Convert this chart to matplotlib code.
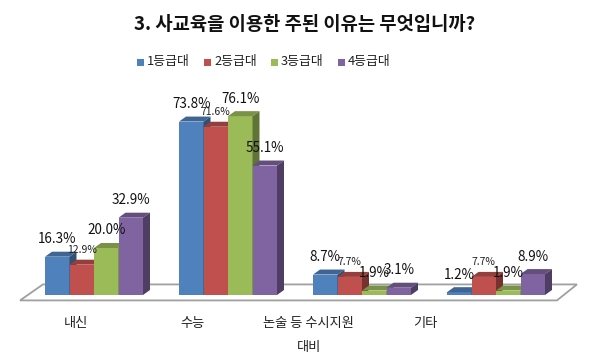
import numpy as np
import matplotlib
matplotlib.use("Agg")
import matplotlib.pyplot as plt
from matplotlib.patches import Polygon
from matplotlib.colors import to_rgb

plt.rcParams['font.family'] = ['Noto Sans CJK KR', 'DejaVu Sans']

title = "3. 사교육을 이용한 주된 이유는 무엇입니까?"
categories = ["내신", "수능", "논술 등 수시지원\n대비", "기타"]
series = ["1등급대", "2등급대", "3등급대", "4등급대"]
grade1 = [16.3, 73.8, 8.7, 1.2]
grade2 = [12.9, 71.6, 7.7, 7.7]
grade3 = [20.0, 76.1, 1.9, 1.9]
grade4 = [32.9, 55.1, 3.1, 8.9]
colors = ["#4F81BD", "#C0504D", "#9BBB59", "#8064A2"]
label_small = [False, True, False, False]


def shade(c, f):
    r, g, b = to_rgb(c)
    return (r * f, g * f, b * f)


# pixel geometry of the reference: base at y=295, 2.35 px per %, groups 134 px apart
PX_X0, PX_STEP = 94.0, 134.0
PX_Y0, PX_PER = 295.0, 2.35
W, H = 600, 362

fig = plt.figure(figsize=(6.0, 3.62), dpi=100)
ax = fig.add_axes([0, 0, 1, 1])
ax.set_xlim(-PX_X0 / PX_STEP, (W - PX_X0) / PX_STEP)
ax.set_ylim(-(H - PX_Y0) / PX_PER, PX_Y0 / PX_PER)
ax.axis("off")

bw = 24.5 / PX_STEP
dx = 7 / PX_STEP
dy = 5 / PX_PER

# floor
fl = [(-0.552, -2.3), (3.455, -2.3), (3.604, 4.5), (-0.381, 4.5)]
ax.add_patch(Polygon(fl, closed=True, facecolor="white", edgecolor="#A0A0A0",
                     lw=1.3, zorder=1))

data = np.array([grade1, grade2, grade3, grade4])
z = 2
for i in range(len(categories)):
    for k in range(len(series)):
        h = data[k][i]
        x0 = i + (k - 2) * bw
        c = colors[k]
        ax.bar(x0, h, width=bw, align="edge", color=c, zorder=z)
        ax.add_patch(Polygon([(x0, h), (x0 + bw, h), (x0 + bw + dx, h + dy),
                              (x0 + dx, h + dy)], closed=True,
                             facecolor=shade(c, 0.78), edgecolor="none", zorder=z))
        ax.add_patch(Polygon([(x0 + bw, 0), (x0 + bw + dx, dy),
                              (x0 + bw + dx, h + dy), (x0 + bw, h)], closed=True,
                             facecolor=shade(c, 0.62), edgecolor="none", zorder=z))
        z += 1
        if label_small[k]:
            ax.annotate(f"{h:.1f}%", (x0 + bw / 2, h), xytext=(0, 15),
                        textcoords="offset pixels", ha="center", va="center",
                        fontsize=7.5, color="#222222", zorder=50)
        else:
            ax.annotate(f"{h:.1f}%", (x0 + bw / 2, h), xytext=(0, 17.5),
                        textcoords="offset pixels", ha="center", va="center",
                        fontsize=9.7, color="#111111", zorder=50)

# category labels
for i, cat in enumerate(categories):
    ax.text(-0.134 + 0.869 * i, -(317 - PX_Y0) / PX_PER, cat, ha="center",
            va="top", fontsize=9.5, color="#222222", linespacing=2.05,
            transform=ax.transData)

fig.text(0.507, 1 - 25 / H, title, ha="center", va="center", fontsize=13.5,
         fontweight="bold", color="#111111")

# legend
for k, s in enumerate(series):
    lx = 137 + 67 * k
    fig.patches.append(plt.Rectangle(((lx) / W, 1 - 65.5 / H), 7 / W, 7 / H,
                                     transform=fig.transFigure,
                                     facecolor=colors[k], edgecolor="none"))
    fig.text((lx + 10) / W, 1 - 62 / H, s, ha="left", va="center",
             fontsize=9.3, color="#222222")

fig.savefig("out.png", dpi=100, facecolor="white")
